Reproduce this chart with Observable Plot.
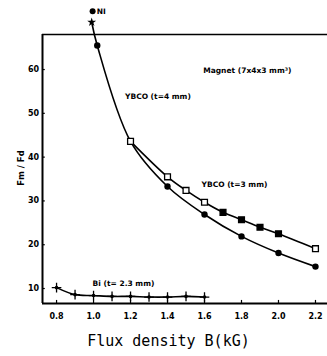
<!DOCTYPE html>
<html>
<head>
<meta charset="utf-8">
<script src="https://cdn.jsdelivr.net/npm/d3@7"></script>
<script src="https://cdn.jsdelivr.net/npm/@observablehq/plot@0.6"></script>
<style>
  html, body { margin: 0; padding: 0; background: #fff; }
  #chart { width: 327px; height: 356px; }
</style>
</head>
<body>
<div id="chart"></div>
<script>
// YBCO (t=4 mm) – filled circles
const ybco4B = [0.99, 1.02, 1.2, 1.4, 1.6, 1.8, 2.0, 2.2];
const ybco4F = [70.8, 65.5, 43.6, 33.3, 26.9, 21.9, 18.1, 15.0];
// YBCO (t=3 mm) – squares (open and filled)
const ybco3B = [1.2, 1.4, 1.5, 1.6, 1.7, 1.8, 1.9, 2.0, 2.2];
const ybco3F = [43.6, 35.5, 32.4, 29.7, 27.4, 25.7, 24.0, 22.5, 19.1];
const ybco3OpenB = [1.2, 1.4, 1.5, 1.6, 2.2];
// Bi (t=2.3 mm)
const biB = [0.8, 0.9, 1.0, 1.1, 1.2, 1.3, 1.4, 1.5, 1.6];
const biF = [10.2, 8.6, 8.4, 8.2, 8.2, 8.05, 8.05, 8.2, 8.05];
// extra markers above the frame
const topMarkB = [0.995];
const topMarkF = [73.3];
const starB = [0.99];
const starF = [70.8];
// axis ticks
const xTicks = [0.8, 1.0, 1.2, 1.4, 1.6, 1.8, 2.0, 2.2];
const yTicks = [10, 20, 30, 40, 50, 60];
const xDomain = [0.724, 2.265];
const yDomain = [6.58, 68.0];

const ybco4 = ybco4B.map((b, i) => ({b, f: ybco4F[i]}));
const ybco3 = ybco3B.map((b, i) => ({b, f: ybco3F[i], open: ybco3OpenB.includes(b)}));
const bi = biB.map((b, i) => ({b, f: biF[i]}));

const font = "DejaVu Sans, sans-serif";

const chart = Plot.plot({
  width: 327,
  height: 356,
  marginLeft: 42,
  marginRight: 0,
  marginTop: 34,
  marginBottom: 53,
  style: {fontFamily: font, background: "#fff", overflow: "visible"},
  x: {domain: xDomain, axis: null},
  y: {domain: yDomain, axis: null},
  marks: [
    // frame lines
    Plot.ruleY([yDomain[1]], {stroke: "#000", strokeWidth: 1.4}),
    Plot.ruleY([yDomain[0]], {stroke: "#000", strokeWidth: 1.8}),
    Plot.ruleX([xDomain[0]], {stroke: "#000", strokeWidth: 2}),
    // inward ticks
    Plot.ruleX(xTicks, {x: d => d, y1: yDomain[0], y2: yDomain[0] + 0.7, stroke: "#000", strokeWidth: 1.2}),
    Plot.ruleY(yTicks, {y: d => d, x1: xDomain[0], x2: xDomain[0] + 0.015, stroke: "#000", strokeWidth: 1.2}),
    // tick labels
    Plot.text(xTicks, {x: d => d, y: yDomain[0], dy: 13, text: d => d.toFixed(1), fontSize: 8, fontWeight: "bold", fill: "#000"}),
    Plot.text(yTicks, {y: d => d, x: xDomain[0], dx: -9, text: d => String(d), fontSize: 8, fontWeight: "bold", fill: "#000"}),
    // curves
    Plot.line(ybco4, {x: "b", y: "f", curve: "catmull-rom", stroke: "#000", strokeWidth: 1.6, clip: false}),
    Plot.line(ybco3, {x: "b", y: "f", curve: "catmull-rom", stroke: "#000", strokeWidth: 1.6}),
    Plot.line(bi, {x: "b", y: "f", curve: "catmull-rom", stroke: "#000", strokeWidth: 1.6}),
    // markers
    Plot.dot(ybco4.slice(1), {x: "b", y: "f", r: 3.2, fill: "#000", stroke: "none"}),
    Plot.dot(ybco3, {x: "b", y: "f", symbol: "square", r: 3.3, fill: d => d.open ? "#fff" : "#000", stroke: "#000", strokeWidth: 1.3}),
    Plot.dot(bi, {x: "b", y: "f", r: 1.8, fill: "#000", stroke: "none"}),
    Plot.dot(bi, {x: "b", y: "f", symbol: "plus", r: 3.2, stroke: "#000", strokeWidth: 1.3}),
    Plot.dot(topMarkB.map((b, i) => ({b, f: topMarkF[i]})), {x: "b", y: "f", r: 3, fill: "#000", stroke: "none"}),
    Plot.dot(starB.map((b, i) => ({b, f: starF[i]})), {x: "b", y: "f", symbol: "star", r: 2.8, fill: "#000", stroke: "none"}),
    // annotations
    Plot.text(["NI"], {x: 1.017, y: 73.3, text: d => d, textAnchor: "start", fontSize: 7.5, fontWeight: "bold", fill: "#000"}),
    Plot.text(["YBCO (t=4 mm)"], {x: 1.17, y: 53.8, text: d => d, textAnchor: "start", fontSize: 7.5, fontWeight: "bold", fill: "#000"}),
    Plot.text(["Magnet (7x4x3 mm³)"], {x: 1.593, y: 59.8, text: d => d, textAnchor: "start", fontSize: 7.5, fontWeight: "bold", fill: "#000"}),
    Plot.text(["YBCO (t=3 mm)"], {x: 1.584, y: 33.8, text: d => d, textAnchor: "start", fontSize: 7.5, fontWeight: "bold", fill: "#000"}),
    Plot.text(["Bi (t= 2.3 mm)"], {x: 0.995, y: 11.2, text: d => d, textAnchor: "start", fontSize: 7.5, fontWeight: "bold", fill: "#000"}),
    // axis titles
    Plot.text(["Fm / Fd"], {x: xDomain[0], y: 37.5, dx: -21, rotate: -90, text: d => d, fontSize: 8.5, fontWeight: "bold", fill: "#000"}),
    Plot.text(["Flux density B(kG)"], {x: 1.405, y: yDomain[0], dy: 38, text: d => d, fontSize: 15, fontFamily: "DejaVu Sans Mono, monospace", fill: "#000"})
  ]
});
document.getElementById("chart").appendChild(chart);
</script>
</body>
</html>
